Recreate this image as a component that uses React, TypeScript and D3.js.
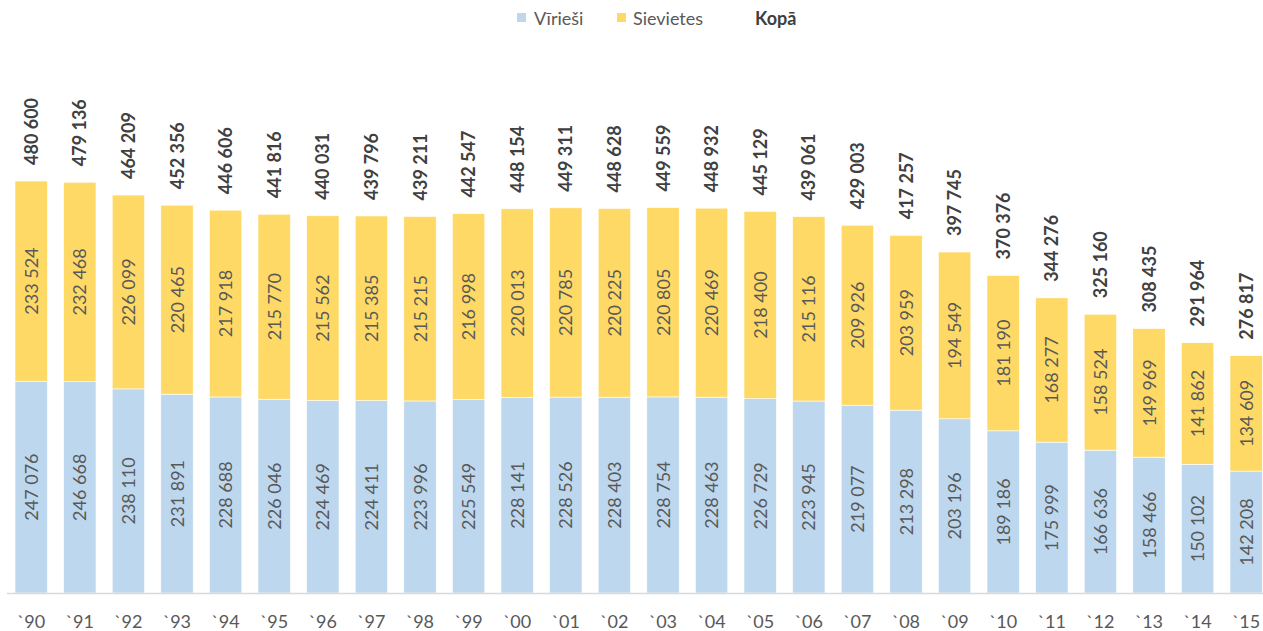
import React from "react";
import * as d3 from "d3";

const years = ["`90","`91","`92","`93","`94","`95","`96","`97","`98","`99","`00","`01","`02","`03","`04","`05","`06","`07","`08","`09","`10","`11","`12","`13","`14","`15"];
const men = [247076,246668,238110,231891,228688,226046,224469,224411,223996,225549,228141,228526,228403,228754,228463,226729,223945,219077,213298,203196,189186,175999,166636,158466,150102,142208];
const women = [233524,232468,226099,220465,217918,215770,215562,215385,215215,216998,220013,220785,220225,220805,220469,218400,215116,209926,203959,194549,181190,168277,158524,149969,141862,134609];
const totals = [480600,479136,464209,452356,446606,441816,440031,439796,439211,442547,448154,449311,448628,449559,448932,445129,439061,429003,417257,397745,370376,344276,325160,308435,291964,276817];

const W = 1263, H = 631;
const BLUE = "#BDD7EE", YELLOW = "#FFD966";
const FONT = "Lato, 'Open Sans', sans-serif";

const fmt = (n: number) => d3.format(",")(n).replace(/,/g, " ");

export default function App() {
  const x = d3.scaleBand<string>().domain(years).range([6.9, 6.9 + 26 * 48.6]).paddingInner(1 / 3).paddingOuter(1 / 6);
  const y = d3.scaleLinear().domain([0, 480600]).range([593, 181]);
  const bw = x.bandwidth();
  return (
    <svg width={W} height={H} style={{ position: "absolute", left: 0, top: 0, background: "#fff" }} fontFamily={FONT}>
      {/* legend */}
      <rect x={517} y={13} width={9} height={9} fill={BLUE} />
      <text x={534} y={25} fontSize={18} fill="#595959">Vīrieši</text>
      <rect x={617} y={13} width={9} height={9} fill={YELLOW} />
      <text x={633} y={25} fontSize={18} fill="#595959">Sievietes</text>
      <text x={755} y={25} fontSize={18} fontWeight="bold" fill="#404040">Kopā</text>

      {years.map((yr, i) => {
        const x0 = x(yr)!;
        const cx = x0 + bw / 2;
        const yMenTop = y(men[i]);
        const yTop = y(men[i] + women[i]);
        const cMen = (y(0) + yMenTop) / 2;
        const cWomen = (yMenTop + yTop) / 2;
        return (
          <g key={yr}>
            <rect x={x0} y={yMenTop} width={bw} height={y(0) - yMenTop} fill={BLUE} stroke="#fff" strokeWidth={0.6} />
            <rect x={x0} y={yTop} width={bw} height={yMenTop - yTop} fill={YELLOW} stroke="#fff" strokeWidth={0.6} />
            <text transform={`translate(${cx + 6.5},${cMen}) rotate(-90)`} textAnchor="middle" fontSize={18} fill="#595959">{fmt(men[i])}</text>
            <text transform={`translate(${cx + 6.5},${cWomen}) rotate(-90)`} textAnchor="middle" fontSize={18} fill="#595959">{fmt(women[i])}</text>
            <text transform={`translate(${cx + 6.5},${y(totals[i]) - 16}) rotate(-90)`} textAnchor="start" fontSize={18} fontWeight="bold" fill="#404040">{fmt(totals[i])}</text>
            <text x={cx} y={628} textAnchor="middle" fontSize={18} fill="#595959">{yr}</text>
          </g>
        );
      })}
      <line x1={7} x2={W} y1={593.5} y2={593.5} stroke="#D9D9D9" strokeWidth={1.5} />
    </svg>
  );
}
